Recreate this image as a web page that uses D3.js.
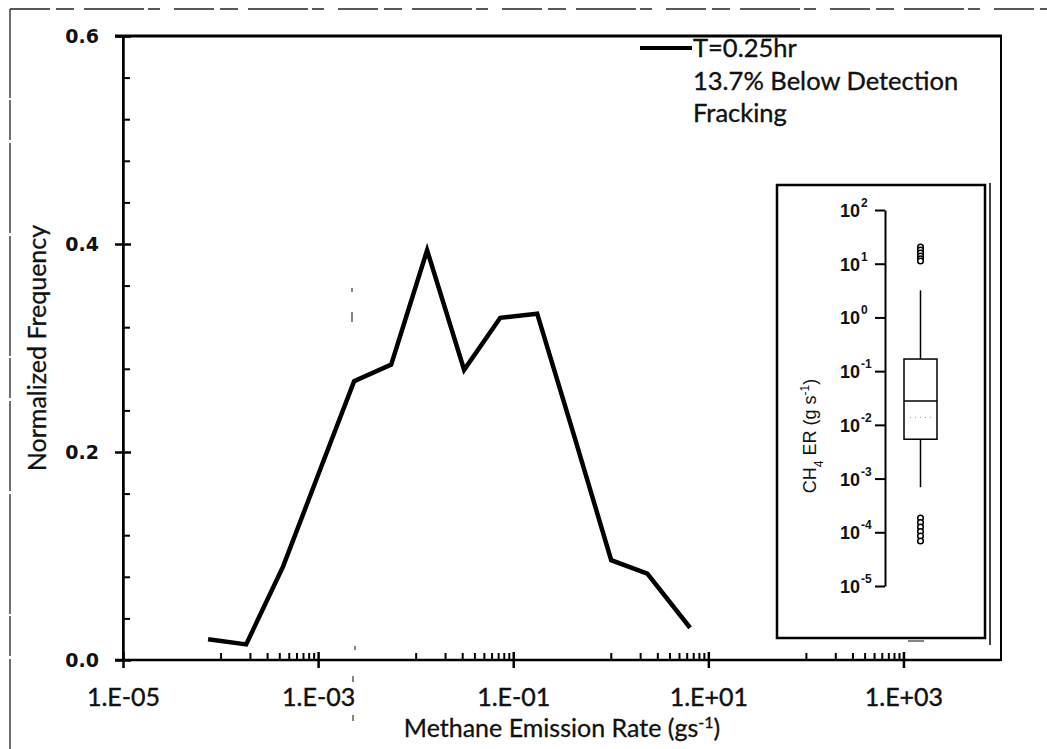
<!DOCTYPE html>
<html>
<head>
<meta charset="utf-8">
<script src="https://cdn.jsdelivr.net/npm/d3@7"></script>
<style>
  html, body { margin: 0; padding: 0; background: #fff; }
  svg { display: block; }
</style>
</head>
<body>
<svg id="chart" width="1047" height="749"></svg>
<script>
// Emission-rate bins (g/s, bin centres) and normalized frequency, T = 0.25 hr
const emissionRates = [7.45e-5, 1.83e-4, 4.38e-4, 1.02e-3, 2.34e-3, 5.61e-3, 1.31e-2,
                       3.14e-2, 7.36e-2, 1.76e-1, 4.23e-1, 1.01, 2.37, 6.5];
const frequencies   = [0.020, 0.015, 0.090, 0.180, 0.268, 0.284, 0.394,
                       0.279, 0.329, 0.333, 0.215, 0.096, 0.083, 0.031];

const xTickValues = [1e-5, 1e-3, 1e-1, 1e1, 1e3];
const xTickLabels = ["1.E-05", "1.E-03", "1.E-01", "1.E+01", "1.E+03"];
const yTickValues = [0, 0.2, 0.4, 0.6];
const yTickLabels = ["0.0", "0.2", "0.4", "0.6"];

const legendLines = ["T=0.25hr", "13.7% Below Detection", "Fracking"];

// Box plot of CH4 emission rate (g/s)
const boxStats = { whiskerLow: 6.9e-4, q1: 5.4e-3, median: 2.77e-2, q3: 0.168, whiskerHigh: 3.2, mean: 1.38e-2 };
const outliersHigh = [20.4, 18.0, 15.8, 13.9, 12.3, 11.2];
const outliersLow  = [1.84e-4, 1.51e-4, 1.25e-4, 1.03e-4, 8.5e-5, 6.9e-5];
const insetExponents = [2, 1, 0, -1, -2, -3, -4, -5];

const svg = d3.select("#chart");
const mainFont = "Lato, 'Open Sans', sans-serif";
const ink = "#111";

// outer frame of the figure
svg.append("path")
  .attr("d", "M10,9 L1047,9")
  .attr("fill", "none").attr("stroke", "#222").attr("stroke-width", 1.3)
  .attr("stroke-dasharray", "40 6 18 10 60 4 12 14");
svg.append("path")
  .attr("d", "M10,749 L10,9")
  .attr("fill", "none").attr("stroke", "#222").attr("stroke-width", 1.3)
  .attr("stroke-dasharray", "90 3 40 2 120 3");

const plot = { left: 123, right: 1001, top: 36, bottom: 660 };

const x = d3.scaleLog().domain([1e-5, 1e4]).range([plot.left, plot.right]);
const y = d3.scaleLinear().domain([0, 0.6]).range([plot.bottom, plot.top]);

// plot-area border
svg.append("rect")
  .attr("x", plot.left).attr("y", plot.top)
  .attr("width", plot.right - plot.left).attr("height", plot.bottom - plot.top)
  .attr("fill", "none").attr("stroke", "#000").attr("stroke-width", 2);
svg.append("line")
  .attr("x1", plot.left - 8).attr("x2", plot.right + 1)
  .attr("y1", plot.top).attr("y2", plot.top)
  .attr("stroke", "#000").attr("stroke-width", 3);

// x axis: major ticks crossing the axis, minor ticks pointing inward
const xMinor = [];
for (let m = -5; m <= 3; m += 2) {
  for (let k = 1; k <= 9; k++) {
    const v = k * Math.pow(10, m + 1);
    if (v < 1e4 && !xTickValues.includes(v)) xMinor.push(v);
  }
}
const xAxis = svg.append("g")
  .attr("transform", `translate(0,${plot.bottom})`)
  .call(d3.axisBottom(x).tickValues(xTickValues)
        .tickFormat((d, i) => xTickLabels[i]).tickSizeOuter(0).tickSizeInner(8).tickPadding(20));
xAxis.select(".domain").attr("stroke-width", 2.5)
  .attr("d", `M${plot.left - 8},0H${plot.right}`);
xAxis.selectAll(".tick line").attr("y1", -8).attr("y2", 8).attr("stroke-width", 2.5);
xAxis.selectAll(".tick text")
  .attr("font-family", mainFont).attr("font-size", 25).attr("fill", ink)
  .attr("stroke", ink).attr("stroke-width", 0.4);

const xMinorAxis = svg.append("g")
  .attr("transform", `translate(0,${plot.bottom})`)
  .call(d3.axisBottom(x).tickValues(xMinor).tickFormat("").tickSizeOuter(0).tickSizeInner(-7));
xMinorAxis.select(".domain").remove();
xMinorAxis.selectAll(".tick line").attr("stroke-width", 2);

// y axis
const yMinor = d3.range(0.04, 0.6, 0.04).filter(v => Math.abs(v / 0.2 - Math.round(v / 0.2)) > 1e-6);
const yAxis = svg.append("g")
  .attr("transform", `translate(${plot.left},0)`)
  .call(d3.axisLeft(y).tickValues(yTickValues)
        .tickFormat((d, i) => yTickLabels[i]).tickSizeOuter(0).tickSizeInner(8).tickPadding(16));
yAxis.select(".domain").attr("stroke-width", 2.5);
yAxis.selectAll(".tick line").attr("x1", -8).attr("x2", 8).attr("stroke-width", 2.5);
yAxis.selectAll(".tick text")
  .attr("font-family", "'DejaVu Sans', sans-serif").attr("font-weight", "bold")
  .attr("font-size", 19).attr("fill", ink);

const yMinorAxis = svg.append("g")
  .attr("transform", `translate(${plot.left},0)`)
  .call(d3.axisLeft(y).tickValues(yMinor).tickFormat("").tickSizeOuter(0).tickSizeInner(-7));
yMinorAxis.select(".domain").remove();
yMinorAxis.selectAll(".tick line").attr("stroke-width", 2);

// axis titles
const xTitle = svg.append("text")
  .attr("x", (plot.left + plot.right) / 2).attr("y", 737)
  .attr("text-anchor", "middle")
  .attr("font-family", mainFont).attr("font-size", 25).attr("fill", ink)
  .attr("stroke", ink).attr("stroke-width", 0.3);
xTitle.append("tspan").text("Methane Emission Rate (gs");
xTitle.append("tspan").attr("baseline-shift", "super").attr("font-size", 16).text("-1");
xTitle.append("tspan").text(")");

svg.append("text")
  .attr("transform", `translate(46,${(plot.top + plot.bottom) / 2}) rotate(-90)`)
  .attr("text-anchor", "middle")
  .attr("font-family", mainFont).attr("font-size", 25).attr("fill", ink)
  .attr("stroke", ink).attr("stroke-width", 0.3)
  .text("Normalized Frequency");

// frequency curve
const series = emissionRates.map((r, i) => ({ r, f: frequencies[i] }));
svg.append("path")
  .datum(series)
  .attr("fill", "none").attr("stroke", "#000").attr("stroke-width", 4.5)
  .attr("stroke-linejoin", "miter")
  .attr("d", d3.line().x(d => x(d.r)).y(d => y(d.f)));

// faint scanner marks
const specks = [[352, 288, 352, 292], [352, 312, 352, 322], [355, 646, 355, 650],
                [353, 676, 353, 682], [353, 715, 353, 721]];
svg.selectAll("line.speck").data(specks).join("line")
  .attr("class", "speck")
  .attr("x1", d => d[0]).attr("y1", d => d[1]).attr("x2", d => d[2]).attr("y2", d => d[3])
  .attr("stroke", "#333").attr("stroke-width", 1.2);

// legend
const legend = svg.append("g").attr("font-family", mainFont).attr("font-size", 25.5)
  .attr("fill", ink).attr("stroke", ink).attr("stroke-width", 0.35);
legend.append("line")
  .attr("x1", 640).attr("x2", 692).attr("y1", 48).attr("y2", 48)
  .attr("stroke", "#000").attr("stroke-width", 4);
legendLines.forEach((t, i) => {
  legend.append("text").attr("x", 693).attr("y", 57 + i * 32.5).text(t);
});

// inset box plot
const inset = svg.append("g");
inset.append("rect").attr("x", 777).attr("y", 185).attr("width", 208).attr("height", 453)
  .attr("fill", "#fff").attr("stroke", "#000").attr("stroke-width", 2.5);
inset.append("line").attr("x1", 990).attr("x2", 990).attr("y1", 183).attr("y2", 645)
  .attr("stroke", "#000").attr("stroke-width", 1.5);
inset.append("line").attr("x1", 908).attr("x2", 924).attr("y1", 641).attr("y2", 641)
  .attr("stroke", "#333").attr("stroke-width", 1.2);

const yIn = d3.scaleLog().domain([1e-5, 1e2]).range([586, 210]);
const insetAxis = inset.append("g")
  .attr("transform", "translate(885,0)")
  .call(d3.axisLeft(yIn).tickValues(insetExponents.map(e => Math.pow(10, e)))
        .tickFormat("").tickSizeOuter(0).tickSizeInner(10));
insetAxis.select(".domain").attr("stroke-width", 2);
insetAxis.selectAll(".tick line").attr("stroke-width", 2);

insetExponents.forEach(e => {
  inset.append("text")
    .attr("x", 860).attr("y", yIn(Math.pow(10, e)) + 7)
    .attr("text-anchor", "end")
    .attr("font-family", "'Liberation Sans', Arial, sans-serif")
    .attr("font-weight", "bold").attr("font-size", 18).attr("fill", ink)
    .text("10");
  inset.append("text")
    .attr("x", 861).attr("y", yIn(Math.pow(10, e)) - 3)
    .attr("font-family", "'Liberation Sans', Arial, sans-serif")
    .attr("font-weight", "bold").attr("font-size", 12).attr("fill", ink)
    .text(e);
});

const insetTitle = inset.append("text")
  .attr("transform", "translate(816,436) rotate(-90)")
  .attr("text-anchor", "middle")
  .attr("font-family", "'Liberation Sans', Arial, sans-serif")
  .attr("font-size", 18).attr("fill", ink);
insetTitle.append("tspan").text("CH");
insetTitle.append("tspan").attr("baseline-shift", "sub").attr("font-size", 12).text("4");
insetTitle.append("tspan").text(" ER (g s");
insetTitle.append("tspan").attr("baseline-shift", "super").attr("font-size", 12).text("-1");
insetTitle.append("tspan").text(")");

const bx0 = 904, bx1 = 937, bxc = (bx0 + bx1) / 2;
inset.append("line").attr("x1", bxc).attr("x2", bxc)
  .attr("y1", yIn(boxStats.whiskerHigh)).attr("y2", yIn(boxStats.q3))
  .attr("stroke", "#000").attr("stroke-width", 1.5);
inset.append("line").attr("x1", bxc).attr("x2", bxc)
  .attr("y1", yIn(boxStats.q1)).attr("y2", yIn(boxStats.whiskerLow))
  .attr("stroke", "#000").attr("stroke-width", 1.5);
inset.append("rect")
  .attr("x", bx0).attr("y", yIn(boxStats.q3))
  .attr("width", bx1 - bx0).attr("height", yIn(boxStats.q1) - yIn(boxStats.q3))
  .attr("fill", "none").attr("stroke", "#000").attr("stroke-width", 1.5);
inset.append("line").attr("x1", bx0).attr("x2", bx1)
  .attr("y1", yIn(boxStats.median)).attr("y2", yIn(boxStats.median))
  .attr("stroke", "#000").attr("stroke-width", 1.5);
inset.append("line").attr("x1", bx0 + 6).attr("x2", bx1 - 4)
  .attr("y1", yIn(boxStats.mean)).attr("y2", yIn(boxStats.mean))
  .attr("stroke", "#999").attr("stroke-width", 1).attr("stroke-dasharray", "1 4");

inset.selectAll("circle.out")
  .data(outliersHigh.concat(outliersLow))
  .join("circle")
  .attr("class", "out")
  .attr("cx", bxc).attr("cy", d => yIn(d)).attr("r", 2.8)
  .attr("fill", "#fff").attr("stroke", "#000").attr("stroke-width", 1.5);
</script>
</body>
</html>
